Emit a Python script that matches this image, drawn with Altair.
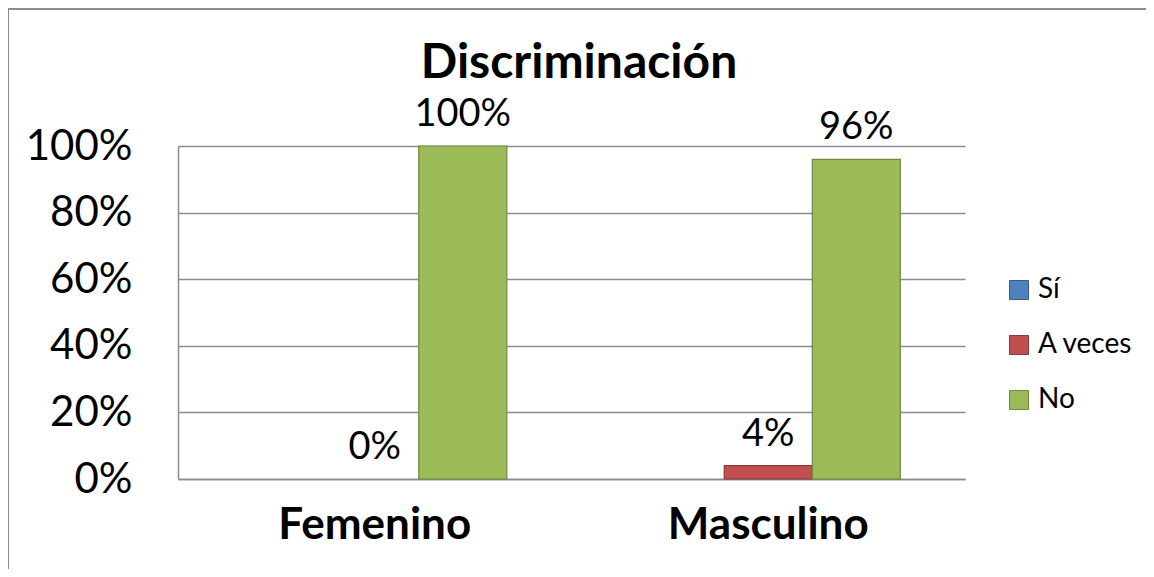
import altair as alt
import pandas as pd

categories = ["Femenino", "Masculino"]
series = ["Sí", "A veces", "No"]
colors = ["#4F81BD", "#C0504D", "#9BBB59"]
strokes = ["#385D8A", "#8C3836", "#71893F"]
si_vals = [None, None]
aveces_vals = [0.0, 0.04]
no_vals = [1.0, 0.96]
title_text = "Discriminación"

rows = []
for s, vals in zip(series, [si_vals, aveces_vals, no_vals]):
    for c, v in zip(categories, vals):
        if v is not None:
            rows.append({"cat": c, "serie": s, "val": v})
df = pd.DataFrame(rows)

FONT = "Lato"
W, H = 787, 333
PL, PT = 170, 138
TOTW, TOTH = 1138, 561
PR, PB = TOTW - PL - W, TOTH - PT - H

xscale = alt.Scale(domain=categories, paddingInner=0, paddingOuter=0)
xoscale = alt.Scale(domain=series, paddingInner=0, paddingOuter=0.735)

x_enc = alt.X("cat:N", scale=xscale,
              axis=alt.Axis(title=None, labelAngle=0, labelFontSize=44, labelFontWeight="bold",
                            labelColor="black", labelFont=FONT, labelPadding=24, ticks=False,
                            labelLimit=0, domainColor="#8c8c8c", domainWidth=1.5))
y_enc = alt.Y("val:Q", scale=alt.Scale(domain=[0, 1]),
              axis=alt.Axis(title=None, format=".0%", values=[0, 0.2, 0.4, 0.6, 0.8, 1.0],
                            labelFontSize=42, labelFont=FONT, labelColor="black", labelPadding=46,
                            ticks=False, gridColor="#8c8c8c", gridWidth=1.5,
                            domainColor="#8c8c8c", domainWidth=1.5))

bars = alt.Chart(df).mark_bar(strokeWidth=1.2).encode(
    x=x_enc, xOffset=alt.XOffset("serie:N", scale=xoscale), y=y_enc,
    color=alt.Color("serie:N", scale=alt.Scale(domain=series, range=colors),
                    legend=alt.Legend(title=None, orient="none", legendX=827, legendY=130,
                                      symbolType="square", symbolSize=361, symbolStrokeWidth=1,
                                      labelFontSize=28, labelFont=FONT, labelColor="black",
                                      rowPadding=27, labelOffset=5, padding=0)),
    stroke=alt.Stroke("serie:N", scale=alt.Scale(domain=series, range=strokes), legend=None),
).transform_filter(alt.datum.val > 0)

labels = alt.Chart(df).mark_text(fontSize=38, font=FONT, color="black", baseline="alphabetic", dy=-20).encode(
    x=alt.X("cat:N", scale=xscale),
    xOffset=alt.XOffset("serie:N", scale=xoscale),
    y=alt.Y("val:Q"),
    text=alt.Text("val:Q", format=".0%"),
)

title = alt.Chart(pd.DataFrame({"t": [title_text]})).mark_text(
    fontSize=48, fontWeight="bold", font=FONT, color="black", align="center", baseline="alphabetic"
).encode(x=alt.value(401), y=alt.value(-68), text="t:N")

frame = alt.Chart(pd.DataFrame({"a": [0]})).mark_rect(fill=None, stroke="#8c8c8c", strokeWidth=2).encode(
    x=alt.value(-PL), x2=alt.value(W + PR + 40),
    y=alt.value(-PT + 1), y2=alt.value(H + PB + 40),
)

chart = alt.layer(frame, bars, labels, title).properties(
    width=W, height=H,
    autosize=alt.AutoSizeParams(type="none"),
    padding={"left": PL, "top": PT, "right": PR, "bottom": PB},
).configure_view(stroke=None)

chart.save("out.html", embed_options={"renderer": "svg", "actions": False})
